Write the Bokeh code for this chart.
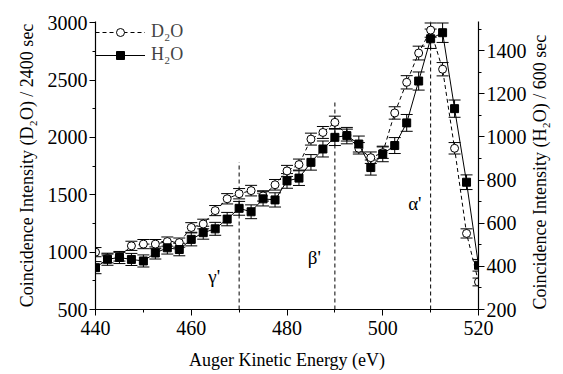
import math
from bokeh.plotting import figure
from bokeh.models import (Range1d, LinearAxis, SingleIntervalTicker, Whisker, ColumnDataSource,
                          Legend, LegendItem, TeeHead, Label)
from bokeh.embed import file_html
from bokeh.resources import INLINE

# ---- data ----
energy = [440, 442.5, 445, 447.5, 450, 452.5, 455, 457.5, 460, 462.5, 465, 467.5, 470, 472.5,
          475, 477.5, 480, 482.5, 485, 487.5, 490, 492.5, 495, 497.5, 500, 502.5, 505, 507.5,
          510, 512.5, 515, 517.5, 520]
d2o = [1000, 945, 960, 1055, 1070, 1070, 1092, 1083, 1215, 1245, 1362, 1465, 1509, 1536,
       1490, 1587, 1708, 1763, 1985, 2043, 2131, 2020, 1905, 1823, 1867, 2213, 2480, 2735,
       2935, 2594, 1905, 1163, 740]
d2o_err = [40, 38, 38, 40, 40, 40, 40, 40, 42, 42, 44, 45, 45, 46,
           45, 46, 48, 48, 52, 52, 54, 52, 50, 50, 50, 54, 58, 60,
           62, 58, 50, 40, 34]
h2o = [394, 433, 441, 432, 425, 462, 486, 478, 525, 556, 574, 619, 669, 653,
       713, 708, 796, 809, 882, 944, 998, 1006, 967, 858, 921, 960, 1065, 1259,
       1455, 1483, 1131, 790, 405]
h2o_err = [28, 28, 28, 28, 28, 28, 29, 29, 30, 30, 30, 31, 32, 32,
           33, 33, 34, 34, 36, 37, 38, 38, 37, 35, 36, 37, 39, 42,
           45, 45, 40, 34, 27]

x_ticks_range = (440, 520)
left_range = (500, 3010)
right_range = (200, 1535)

peak_energy = [470, 490, 510]
peak_top = [1784, 2320, 3010]
peak_names = ["γ'", "β'", "α'"]
peak_label_x = [464.8, 485.7, 506.7]
peak_label_y = [789, 953, 1420]

FONT = "Liberation Serif"

p = figure(width=562, height=372, output_backend="svg", toolbar_location=None,
           x_range=Range1d(*x_ticks_range), y_range=Range1d(*left_range),
           min_border_left=95, min_border_right=73, min_border_top=21, min_border_bottom=63)
p.extra_y_ranges = {"h2o": Range1d(*right_range)}
p.outline_line_color = None
p.xgrid.visible = False
p.ygrid.visible = False
p.background_fill_color = "white"

def style_axis(ax):
    ax.axis_line_color = "black"
    ax.axis_line_width = 1.2
    ax.major_tick_in = 0
    ax.major_tick_out = 6
    ax.minor_tick_in = 0
    ax.minor_tick_out = 3
    ax.major_tick_line_color = "black"
    ax.minor_tick_line_color = "black"
    ax.major_label_text_font = FONT
    ax.major_label_text_font_size = "20px"
    ax.major_label_text_color = "black"
    ax.axis_label_text_font = FONT
    ax.axis_label_text_font_size = "18px"
    ax.axis_label_text_font_style = "normal"
    ax.axis_label_text_color = "black"

p.xaxis.ticker = SingleIntervalTicker(interval=20, num_minor_ticks=2)
p.xaxis.axis_label = "Auger Kinetic Energy (eV)"
p.yaxis.ticker = SingleIntervalTicker(interval=500, num_minor_ticks=2)
p.yaxis.axis_label = "Coincidence Intensity (D₂O) / 2400 sec"
for ax in p.xaxis + p.yaxis:
    style_axis(ax)
p.xaxis.major_label_standoff = 5
p.xaxis.axis_label_standoff = 12
p.yaxis.major_label_standoff = 2
p.yaxis.axis_label_standoff = 8

rax = LinearAxis(y_range_name="h2o", ticker=SingleIntervalTicker(interval=200, num_minor_ticks=2),
                 axis_label="Coincidence Intensity (H₂O) / 600 sec")
style_axis(rax)
rax.major_label_standoff = 2
rax.axis_label_standoff = 10
rax.axis_label_orientation = math.pi / 2
rax.axis_label_align = "start"
p.add_layout(rax, "right")

# peak markers
for xe, yt, nm, lx, ly in zip(peak_energy, peak_top, peak_names, peak_label_x, peak_label_y):
    p.segment(x0=[xe], y0=[left_range[0]], x1=[xe], y1=[yt], line_color="black",
              line_dash="4 3", line_width=1)
    p.add_layout(Label(x=lx, y=ly, text=nm, text_font=FONT, text_font_size="19px",
                       text_align="center", text_baseline="middle", text_color="black"))

src_d = ColumnDataSource(dict(x=energy, y=d2o,
                              lo=[v - e for v, e in zip(d2o, d2o_err)],
                              hi=[v + e for v, e in zip(d2o, d2o_err)]))
src_h = ColumnDataSource(dict(x=energy, y=h2o,
                              lo=[v - e for v, e in zip(h2o, h2o_err)],
                              hi=[v + e for v, e in zip(h2o, h2o_err)]))

wd = Whisker(source=src_d, base="x", lower="lo", upper="hi", line_color="black", line_width=1,
             upper_head=TeeHead(size=12, line_color="black", line_width=1),
             lower_head=TeeHead(size=12, line_color="black", line_width=1), level="underlay")
p.add_layout(wd)
dl = p.line("x", "y", source=src_d, line_color="black", line_dash="4 3", line_width=1)
ds = p.scatter("x", "y", source=src_d, marker="circle", size=8, fill_color="white",
               line_color="black", line_width=1)

wh = Whisker(source=src_h, base="x", lower="lo", upper="hi", line_color="black", line_width=1,
             upper_head=TeeHead(size=12, line_color="black", line_width=1),
             lower_head=TeeHead(size=12, line_color="black", line_width=1),
             y_range_name="h2o", level="underlay")
p.add_layout(wh)
hl = p.line("x", "y", source=src_h, line_color="black", line_width=1, y_range_name="h2o")
hs = p.scatter("x", "y", source=src_h, marker="square", size=8, fill_color="black",
               line_color="black", y_range_name="h2o")

legend = Legend(items=[LegendItem(label="D₂O", renderers=[dl, ds]),
                       LegendItem(label="H₂O", renderers=[hl, hs])],
                location="top_left", margin=0, padding=2, spacing=2,
                glyph_width=50, glyph_height=20, label_height=20,
                label_text_font=FONT, label_text_font_size="18px",
                background_fill_alpha=0, border_line_color=None, label_standoff=6)
p.add_layout(legend)

open("out.html", "w").write(file_html(p, INLINE))
